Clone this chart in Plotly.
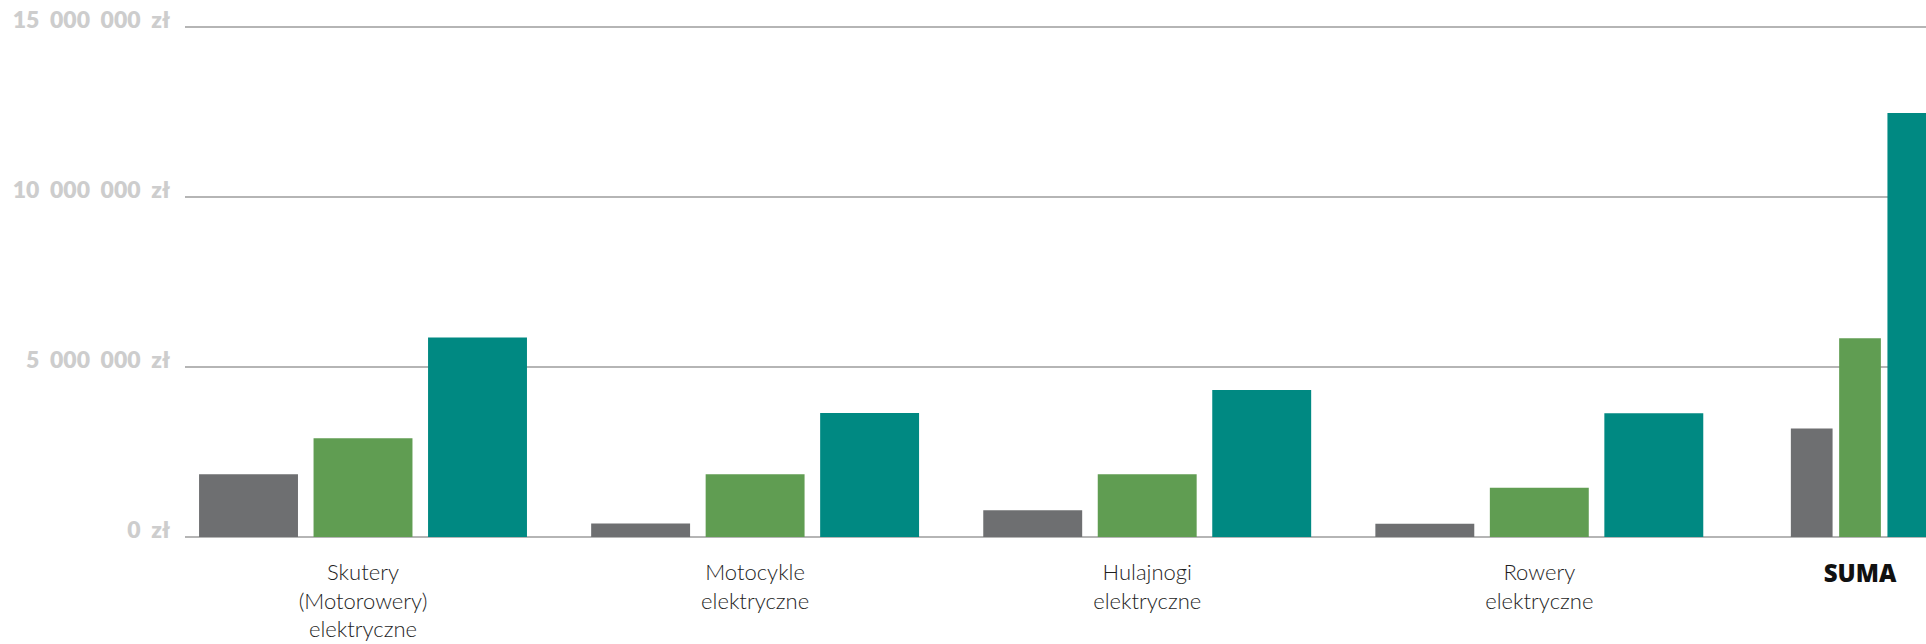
import plotly.graph_objects as go

# ---- data ----
categories = ["Skutery<br>(Motorowery)<br>elektryczne", "Motocykle<br>elektryczne",
              "Hulajnogi<br>elektryczne", "Rowery<br>elektryczne"]
total_category = ["SUMA"]
series_names = ["Seria 1", "Seria 2", "Seria 3"]
series_gray = [1850000, 400000, 790000, 390000]
series_green = [2910000, 1850000, 1850000, 1450000]
series_teal = [5870000, 3650000, 4330000, 3640000]
total_gray = [3190000]
total_green = [5850000]
total_teal = [12480000]
y_tickvals = [0, 5000000, 10000000, 15000000]
NB = "\u00a0\u00a0"
y_ticktext = ["0" + NB + "zł",
              "5" + NB + "000" + NB + "000" + NB + "zł",
              "10" + NB + "000" + NB + "000" + NB + "zł",
              "15" + NB + "000" + NB + "000" + NB + "zł"]

colors = ["#6e6f71", "#609d52", "#008982"]
grid_color = "#b5b5b5"

fig = go.Figure()
main_vals = [series_gray, series_green, series_teal]
total_vals = [total_gray, total_green, total_teal]
for name, col, v, tv in zip(series_names, colors, main_vals, total_vals):
    fig.add_trace(go.Bar(x=categories, y=v, name=name, marker_color=col,
                         marker_line_width=0, xaxis="x", yaxis="y", showlegend=False))
    fig.add_trace(go.Bar(x=total_category, y=tv, name=name, marker_color=col,
                         marker_line_width=0, xaxis="x2", yaxis="y2", showlegend=False))

W, H = 1926, 644
ml, mr, mt, mb = 185, 0, 24, 107
split = 0.9146
yr = [0, 15100000]

fig.update_layout(
    width=W, height=H,
    margin=dict(l=ml, r=mr, t=mt, b=mb, pad=0),
    paper_bgcolor="white", plot_bgcolor="white",
    barmode="group", bargap=0.124, bargroupgap=0.136,
    showlegend=False,
    xaxis=dict(domain=[0, split], range=[-0.454, 3.607], type="category",
               showgrid=False, zeroline=False, showline=False, ticks="",
               tickfont=dict(family="Lato", size=22, color="#1e1e1e", weight=300),
               ticklabelstandoff=20),
    xaxis2=dict(domain=[split, 1], range=[-0.5, 0.399], type="category",
                anchor="y2", showgrid=False, zeroline=False, showline=False, ticks="",
                tickfont=dict(family="Open Sans", size=24, color="#111111", weight=800),
                ticklabelstandoff=20),
    yaxis=dict(range=yr, tickvals=y_tickvals, ticktext=y_ticktext,
               showgrid=True, gridcolor=grid_color, gridwidth=1.5,
               zeroline=True, zerolinecolor=grid_color, zerolinewidth=1.5,
               showline=False, ticks="",
               tickfont=dict(family="Lato", size=23, color="#cdcdcd", weight=800),
               ticklabelstandoff=14, ticklabelshift=-7),
    yaxis2=dict(range=yr, tickvals=y_tickvals, anchor="x2", matches="y",
                showgrid=True, gridcolor=grid_color, gridwidth=1.5,
                zeroline=True, zerolinecolor=grid_color, zerolinewidth=1.5,
                showline=False, ticks="", showticklabels=False),
)

fig.write_html("out.html", config={"displayModeBar": False},
               post_script="document.body.style.margin='0';")
